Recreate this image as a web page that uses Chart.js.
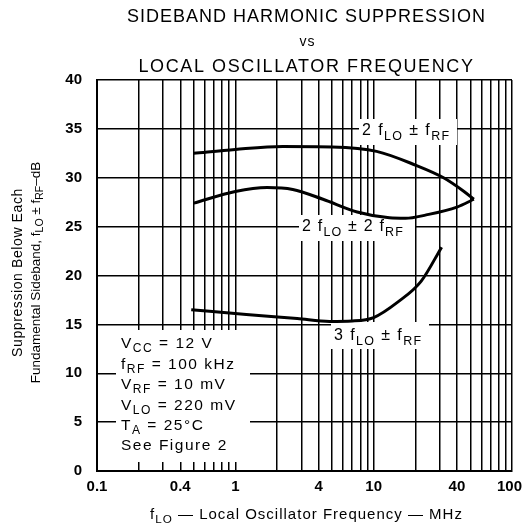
<!DOCTYPE html>
<html><head><meta charset="utf-8">
<script src="https://cdn.jsdelivr.net/npm/chart.js@4/dist/chart.umd.min.js"></script>
<style>html,body{margin:0;padding:0;background:#fff;}canvas{display:block;}</style>
</head><body>
<canvas id="c" width="523" height="528"></canvas>
<script>
// ---- data ----
const freq2fLOfRF = [0.5, 1.0, 2.2, 5, 10.5, 20, 32, 45, 53];
const supp2fLOfRF = [32.5, 32.9, 33.2, 33.15, 32.7, 31.3, 30.0, 28.6, 27.8];
const freq2fLO2fRF = [0.5, 1.0, 1.7, 2.6, 4.3, 7.6, 13, 17, 24, 40, 53];
const supp2fLO2fRF = [27.4, 28.6, 29.0, 28.8, 27.8, 26.5, 25.9, 25.85, 26.2, 27.0, 27.8];
const freq3fLOfRF = [0.48, 1.2, 2.8, 4.8, 7, 10, 15, 22, 31];
const supp3fLOfRF = [16.5, 16.0, 15.6, 15.3, 15.35, 15.7, 17.3, 19.4, 22.9];
const xGridValues = [0.1,0.2,0.3,0.4,0.5,0.6,0.7,0.8,0.9,1,2,3,4,5,6,7,8,9,10,20,30,40,50,60,70,80,90,100];
const xTickLabels = [0.1, 0.4, 1, 4, 10, 40, 100];
const yTickValues = [0, 5, 10, 15, 20, 25, 30, 35, 40];

const titleLines = ['SIDEBAND HARMONIC SUPPRESSION', 'vs', 'LOCAL OSCILLATOR FREQUENCY'];
const yTitle1 = [['Suppression Below Each', 0]];
const yTitle2 = [['Fundamental Sideband, f', 0], ['LO', 1], [' \u00b1 f', 0], ['RF', 1], ['\u2013dB', 0]];
const xTitle = [['f', 0], ['LO', 1], [' \u2014 Local Oscillator Frequency \u2014 MHz', 0]];
const label1 = [['2 f', 0], ['LO', 1], [' \u00b1 f', 0], ['RF', 1]];
const label2 = [['2 f', 0], ['LO', 1], [' \u00b1 2 f', 0], ['RF', 1]];
const label3 = [['3 f', 0], ['LO', 1], [' \u00b1 f', 0], ['RF', 1]];
const conditions = [
  [['V', 0], ['CC', 1], [' = 12 V', 0]],
  [['f', 0], ['RF', 1], [' = 100 kHz', 0]],
  [['V', 0], ['RF', 1], [' = 10 mV', 0]],
  [['V', 0], ['LO', 1], [' = 220 mV', 0]],
  [['T', 0], ['A', 1], [' = 25\u00b0C', 0]],
  [['See Figure 2', 0]]
];

const FAM = '"Liberation Sans", Arial, Helvetica, sans-serif';

function drawRich(ctx, runs, x, y, size, align, weight, spacing) {
  weight = weight || 'normal';
  spacing = spacing || 0;
  const parts = runs.map(r => {
    const fs = r[1] ? size * 0.78 : size;
    ctx.font = weight + ' ' + fs + 'px ' + FAM;
    if ('letterSpacing' in ctx) ctx.letterSpacing = spacing + 'px';
    return { t: r[0], sub: r[1], fs: fs, w: ctx.measureText(r[0]).width };
  });
  const total = parts.reduce((a, p) => a + p.w, 0);
  let cx = align === 'center' ? x - total / 2 : (align === 'right' ? x - total : x);
  ctx.textAlign = 'left';
  ctx.textBaseline = 'middle';
  ctx.fillStyle = '#000';
  parts.forEach(p => {
    ctx.font = weight + ' ' + p.fs + 'px ' + FAM;
    if ('letterSpacing' in ctx) ctx.letterSpacing = spacing + 'px';
    ctx.fillText(p.t, cx, y + (p.sub ? size * 0.32 : 0));
    cx += p.w;
  });
  if ('letterSpacing' in ctx) ctx.letterSpacing = '0px';
  return total;
}

const annotate = {
  id: 'annotate',
  beforeDatasetsDraw(chart) {
    const ctx = chart.ctx;
    ctx.save();
    ctx.fillStyle = '#fff';
    // conditions block and curve labels hide the grid behind them
    ctx.fillRect(116, 330, 134, 132);
    ctx.fillRect(359, 119, 98, 26);
    ctx.fillRect(299, 215, 116, 26);
    ctx.fillRect(331, 322, 98, 27);
    ctx.restore();
  },
  afterDatasetsDraw(chart) {
    const ctx = chart.ctx;
    ctx.save();
    drawRich(ctx, label1, 362, 131, 16, 'left', 'normal', 1.4);
    drawRich(ctx, label2, 302, 227, 16, 'left', 'normal', 1.2);
    drawRich(ctx, label3, 334, 336, 16, 'left', 'normal', 1.4);
    const lineY = [344, 364.5, 385, 405.5, 426, 446];
    conditions.forEach((runs, i) => drawRich(ctx, runs, 121, lineY[i], 15.5, 'left', 'normal', 1.5));
    ctx.restore();
  },
  afterDraw(chart) {
    const ctx = chart.ctx;
    const ca = chart.chartArea;
    const cxm = (ca.left + ca.right) / 2;
    ctx.save();
    drawRich(ctx, [[titleLines[0], 0]], cxm + 2, 17, 18, 'center', 'normal', 1);
    drawRich(ctx, [[titleLines[1], 0]], cxm + 3, 42, 14, 'center', 'normal', 1);
    drawRich(ctx, [[titleLines[2], 0]], cxm + 2, 67, 18, 'center', 'normal', 1.6);
    // x tick labels
    const xs = chart.scales.x;
    xTickLabels.forEach(v => {
      const t = String(v);
      ctx.font = 'bold 15px ' + FAM;
      const w = ctx.measureText(t).width;
      let px = xs.getPixelForValue(v);
      px = Math.min(px, chart.width - w / 2 - 1);
      ctx.textAlign = 'center';
      ctx.textBaseline = 'middle';
      ctx.fillStyle = '#000';
      ctx.fillText(t, px, 487);
    });
    // axis titles
    drawRich(ctx, xTitle, cxm + 2, 515, 15, 'center', 'normal', 1.0);
    const ym = (ca.top + ca.bottom) / 2;
    ctx.translate(18, ym - 3);
    ctx.rotate(-Math.PI / 2);
    drawRich(ctx, yTitle1, 0, 0, 14, 'center', 'normal', 0.6);
    ctx.rotate(Math.PI / 2);
    ctx.translate(18, 0);
    ctx.rotate(-Math.PI / 2);
    drawRich(ctx, yTitle2, 0, 0, 13.5, 'center', 'normal', 0);
    ctx.restore();
  }
};

const mk = (xs, ys) => xs.map((x, i) => ({ x: x, y: ys[i] }));
const lineStyle = { borderColor: '#000', borderWidth: 3, pointRadius: 0, fill: false, cubicInterpolationMode: 'monotone' };

new Chart(document.getElementById('c'), {
  type: 'line',
  data: {
    datasets: [
      Object.assign({ label: '2 fLO \u00b1 fRF', data: mk(freq2fLOfRF, supp2fLOfRF) }, lineStyle),
      Object.assign({ label: '2 fLO \u00b1 2 fRF', data: mk(freq2fLO2fRF, supp2fLO2fRF) }, lineStyle),
      Object.assign({ label: '3 fLO \u00b1 fRF', data: mk(freq3fLOfRF, supp3fLOfRF) }, lineStyle)
    ]
  },
  options: {
    responsive: false,
    animation: false,
    devicePixelRatio: 1,
    layout: { padding: { top: 80, right: 11, left: 0, bottom: 0 } },
    plugins: { legend: { display: false }, title: { display: false }, tooltip: { enabled: false } },
    scales: {
      x: {
        type: 'logarithmic', min: 0.1, max: 100,
        afterBuildTicks: s => { s.ticks = xGridValues.map(v => ({ value: v })); },
        afterFit: s => { s.height = 57; s.paddingLeft = 0; s.paddingRight = 0; },
        ticks: { display: false, autoSkip: false, maxRotation: 0 },
        grid: { color: '#000', lineWidth: 1.5, drawTicks: false },
        border: { color: '#000', width: 2 }
      },
      y: {
        min: 0, max: 40,
        afterBuildTicks: s => { s.ticks = yTickValues.map(v => ({ value: v })); },
        afterFit: s => { s.width = 97; s.paddingTop = 0; s.paddingBottom = 0; },
        ticks: { color: '#000', padding: 15, font: { family: FAM, size: 15, weight: 'bold' } },
        grid: { color: '#000', lineWidth: 1.5, drawTicks: false },
        border: { color: '#000', width: 2 }
      }
    }
  },
  plugins: [annotate]
});
</script>
</body></html>
